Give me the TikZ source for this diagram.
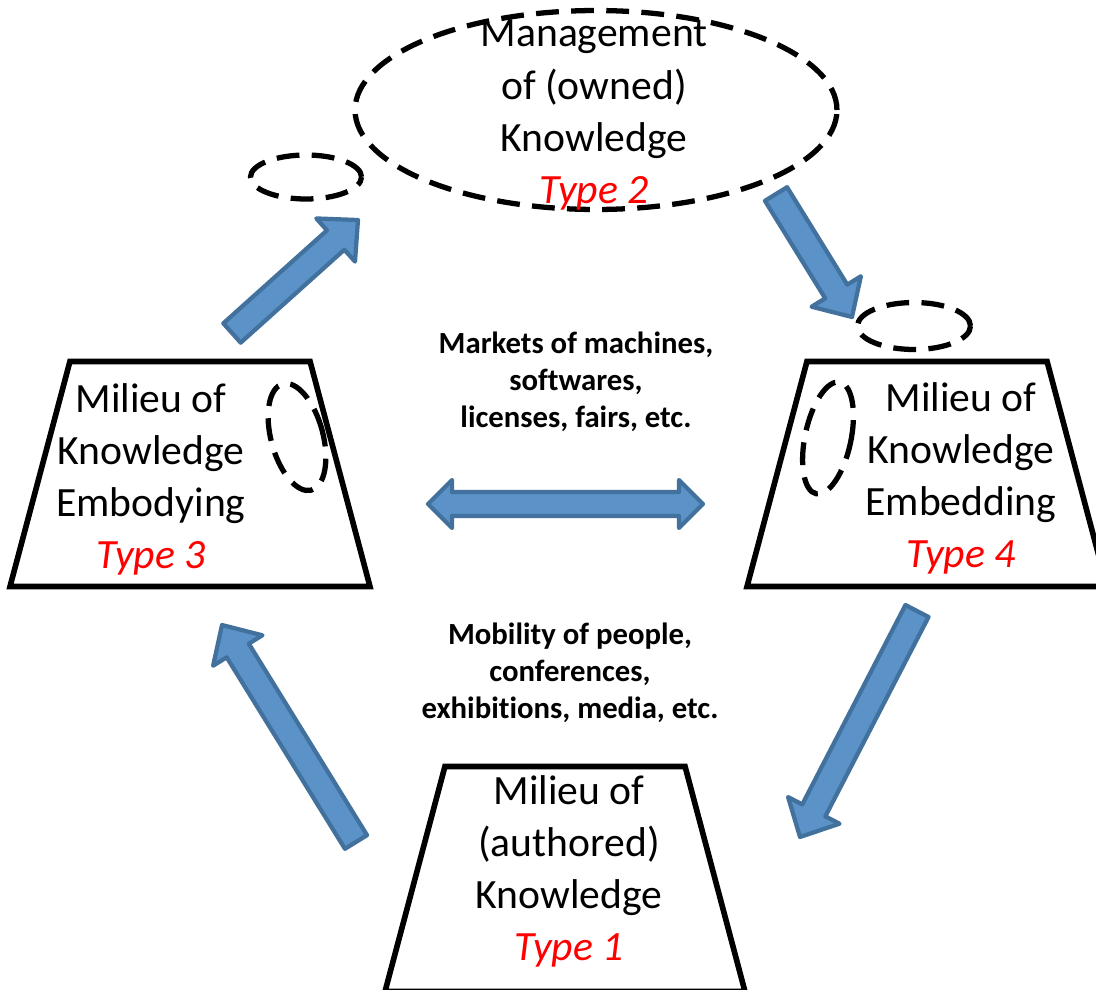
\documentclass[tikz,border=0pt]{standalone}
\usepackage{fontspec}
\setmainfont{Carlito}[Ligatures=NoCommon]
\usetikzlibrary{shapes.geometric,calc,positioning}
\definecolor{flowfill}{HTML}{5B92C8}
\definecolor{flowline}{HTML}{41719C}
\definecolor{typered}{HTML}{FF0000}
\newcommand{\kind}[1]{{\color{typered}\itshape #1}}
% block arrow from tail to tip (named coordinates)
\newcommand{\fatarrow}[2]{%
  \path ($(#2)!0.6cm!(#1)$) coordinate (neck);
  \filldraw[flow] ($(#1)!0.26cm!90:(#2)$) -- ($(neck)!0.26cm!90:(#2)$)
    -- ($(neck)!0.58cm!90:(#2)$) -- (#2) -- ($(neck)!0.58cm!-90:(#2)$)
    -- ($(neck)!0.26cm!-90:(#2)$) -- ($(#1)!0.26cm!-90:(#2)$) -- cycle;}
% block arrow with a head at both ends
\newcommand{\fatdouble}[2]{%
  \path ($(#1)!0.48cm!(#2)$) coordinate (neckA) ($(#2)!0.48cm!(#1)$) coordinate (neckB);
  \filldraw[flow] (#1) -- ($(neckA)!0.48cm!90:(#2)$) -- ($(neckA)!0.24cm!90:(#2)$)
    -- ($(neckB)!0.24cm!-90:(#1)$) -- ($(neckB)!0.48cm!-90:(#1)$) -- (#2)
    -- ($(neckB)!0.48cm!90:(#1)$) -- ($(neckB)!0.24cm!90:(#1)$)
    -- ($(neckA)!0.24cm!-90:(#2)$) -- ($(neckA)!0.48cm!-90:(#2)$) -- cycle;}
\tikzset{
  milieu/.style={draw, line width=3.2pt, trapezium, trapezium left angle=76,
    trapezium right angle=76, trapezium stretches=true,
    minimum width=7.2cm, minimum height=4.5cm, inner sep=2pt},
  blob/.style={draw, ellipse, line width=3pt, dash pattern=on 13pt off 7pt, inner sep=0pt},
  flow/.style={fill=flowfill, draw=flowline, line width=2.4pt, line join=round},
  lbl/.style={font=\fontsize{23.7pt}{29.6pt}\selectfont, align=center, inner sep=0pt},
  note/.style={font=\fontsize{17.5pt}{21pt}\selectfont\bfseries, align=center, inner sep=0pt},
}
\begin{document}
\begin{tikzpicture}[x=0.02cm, y=-0.02cm]
  \useasboundingbox (0,0) rectangle (1096,990);
  % the three milieus
  \node[milieu] (embody) at (190,474) {};
  \node[milieu] (embed) at (927,474) {};
  \node[milieu] (author) at (565,879) {};
  % dashed knowledge bubbles
  \node[blob, minimum width=9.64cm, minimum height=3.98cm] (manage) at (596,110) {};
  \node[blob, minimum width=2.22cm, minimum height=0.88cm] (embodyOut) at (306,177) {};
  \node[blob, minimum width=2.26cm, minimum height=0.94cm] (embedIn) at (914,326) {};
  \node[blob, minimum width=1.04cm, minimum height=2.2cm, rotate=15] (embodyBlob) at (297,437) {};
  \node[blob, minimum width=0.92cm, minimum height=2.28cm, rotate=-12] (embedBlob) at (828,438) {};
  % labels
  \node[lbl] (manageText) at (594,115) {Management\\of (owned)\\Knowledge\\\kind{Type 2}};
  \node[lbl] (embodyText) at (151,479) {Milieu of\\Knowledge\\Embodying\\\kind{Type 3}};
  \node[lbl] (embedText) at (961,478) {Milieu of\\Knowledge\\Embedding\\\kind{Type 4}};
  \node[lbl] (authorText) at (569,871) {Milieu of\\(authored)\\Knowledge\\\kind{Type 1}};
  \node[note] (markets) at (576,382) {Markets of machines,\\softwares,\\licenses, fairs, etc.};
  \node[note] (mobility) at (570,673) {Mobility of people,\\conferences,\\exhibitions, media, etc.};
  % flows around the cycle
  \coordinate (riseTail) at (232,333);  \coordinate (riseTip) at (358,220);
  \coordinate (dropTail) at (776,194);  \coordinate (dropTip) at (852,317);
  \coordinate (downTail) at (917,611);  \coordinate (downTip) at (800,837);
  \coordinate (backTail) at (356,842);  \coordinate (backTip) at (222,625);
  \coordinate (tradeL) at (428,504);    \coordinate (tradeR) at (703,504);
  \fatarrow{riseTail}{riseTip}
  \fatarrow{dropTail}{dropTip}
  \fatarrow{downTail}{downTip}
  \fatarrow{backTail}{backTip}
  \fatdouble{tradeL}{tradeR}
\end{tikzpicture}
\end{document}
